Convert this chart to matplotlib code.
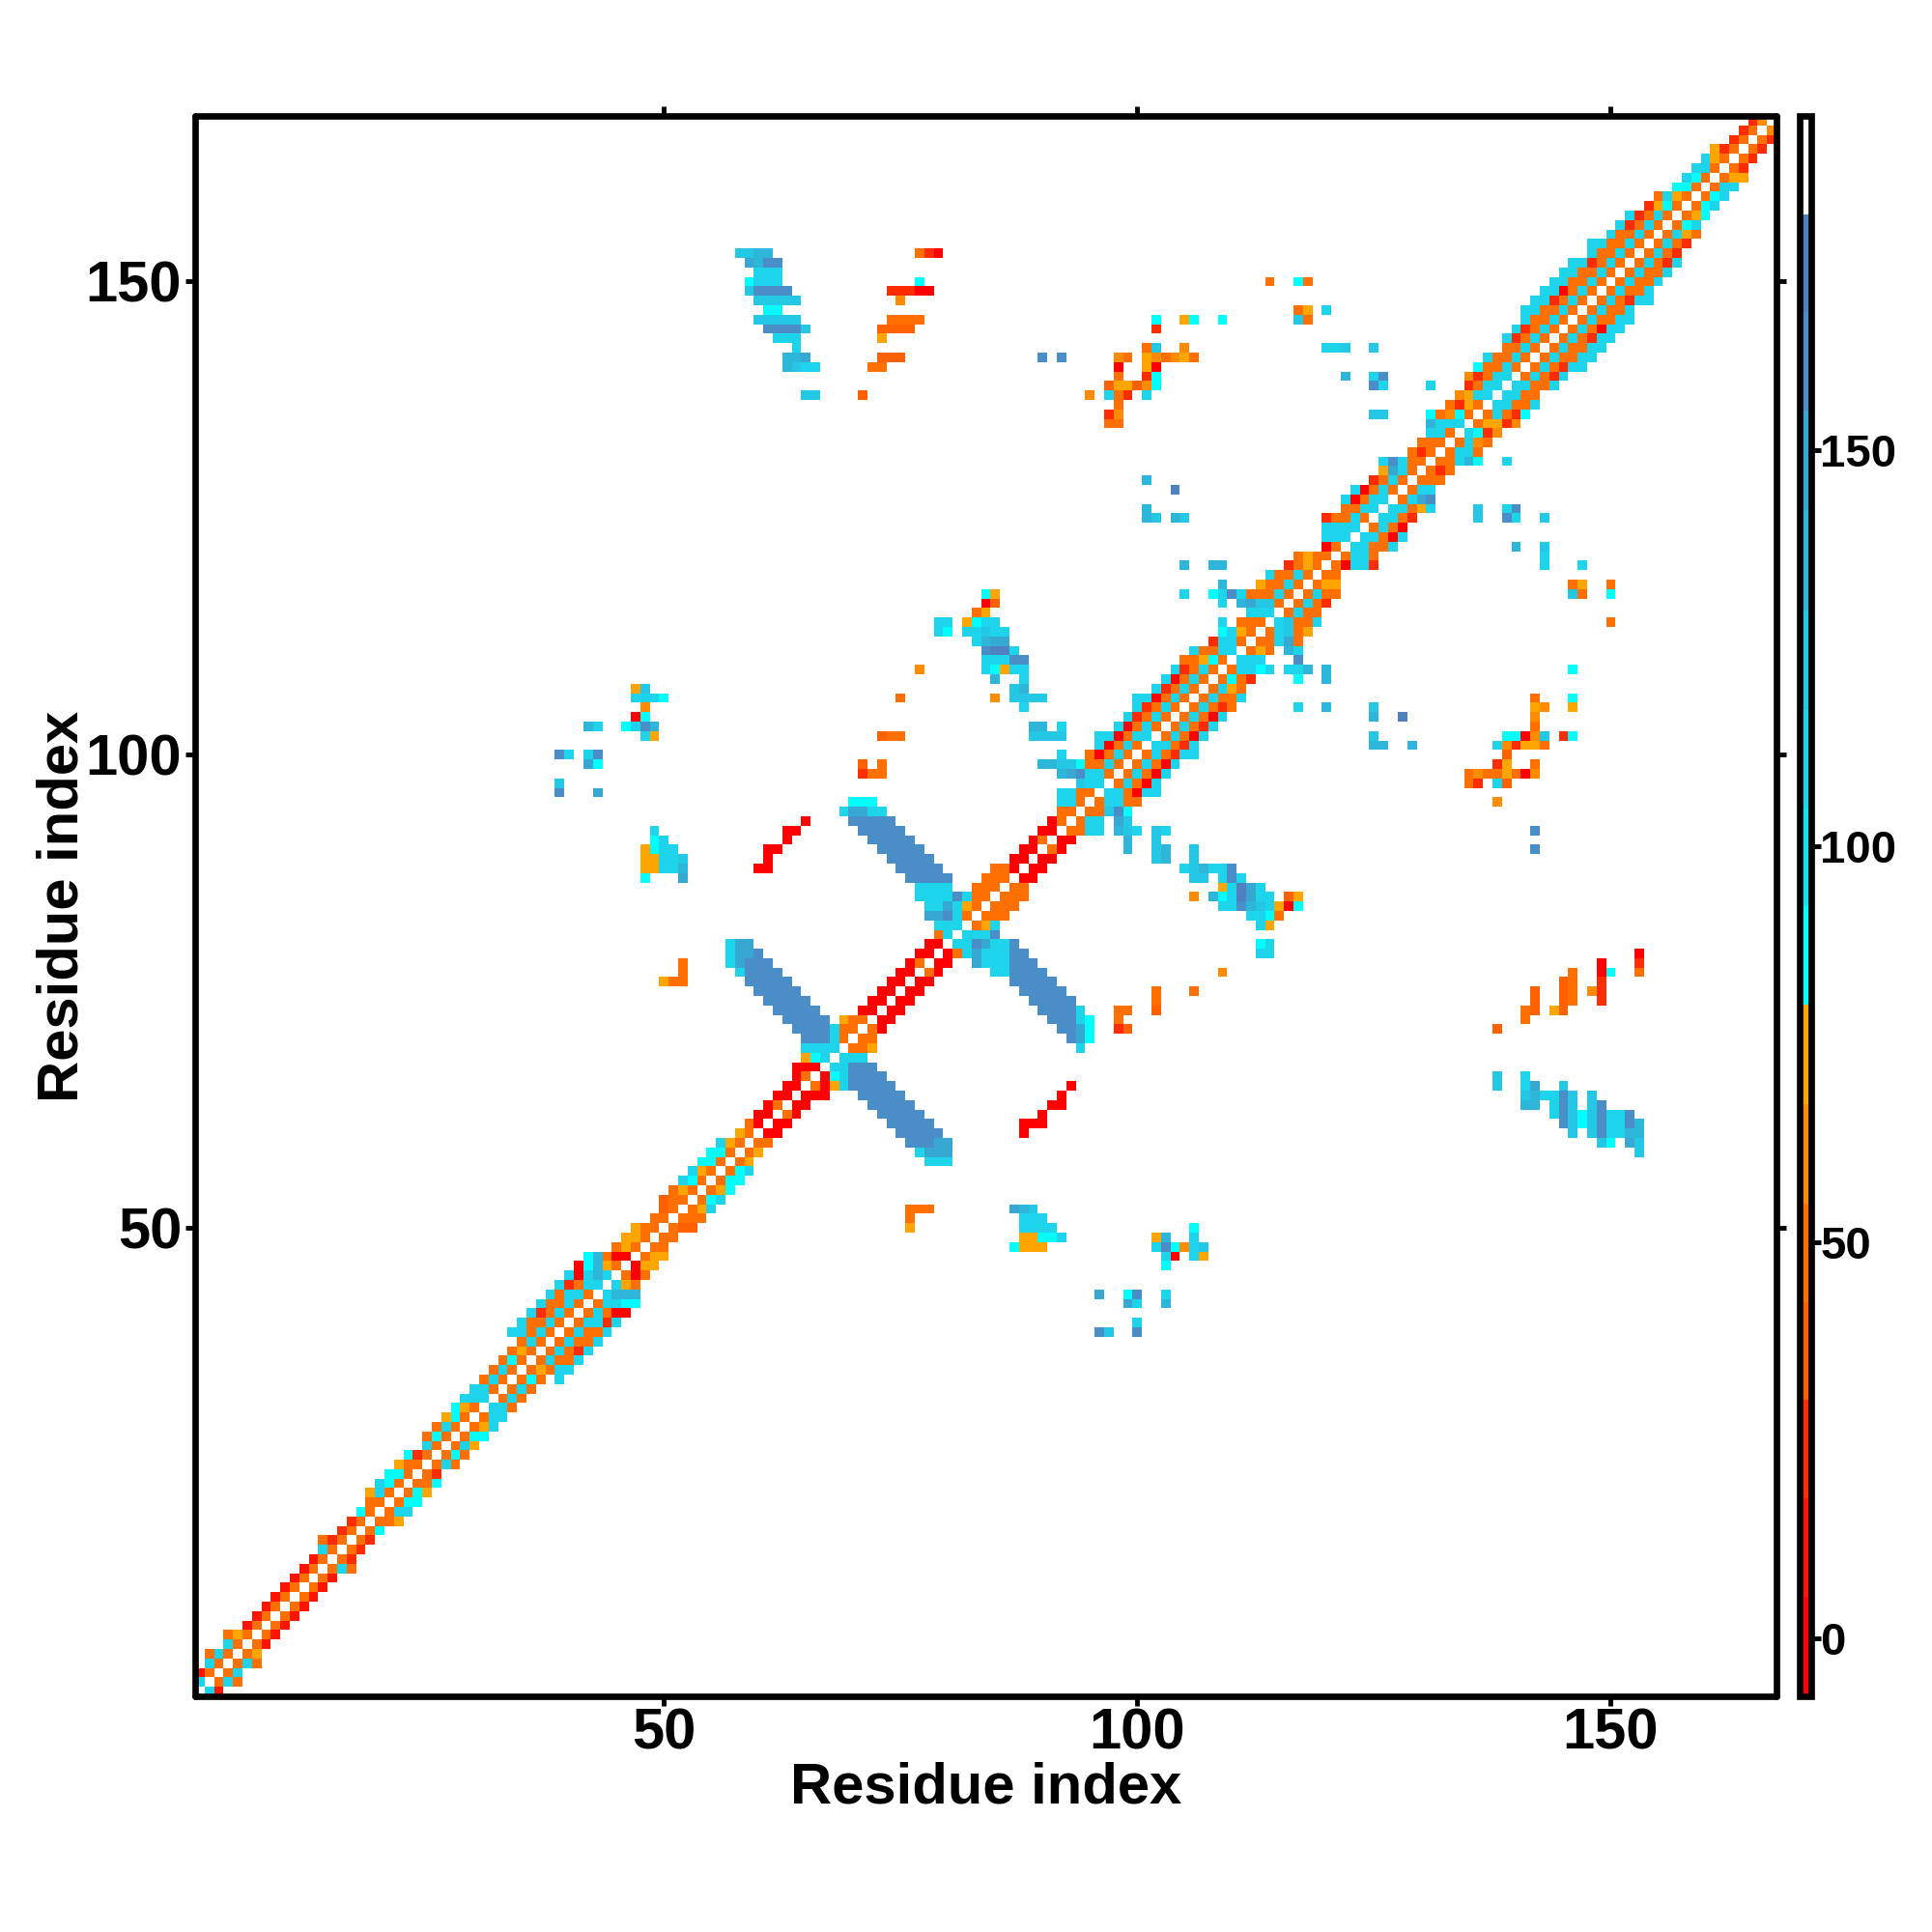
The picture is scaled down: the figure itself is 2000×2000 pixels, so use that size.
import numpy as np
import matplotlib
matplotlib.use('Agg')
import matplotlib.pyplot as plt
from matplotlib.colors import ListedColormap, BoundaryNorm

plt.rcParams['font.family'] = ['Liberation Sans', 'DejaVu Sans']
plt.rcParams['font.weight'] = 'bold'

N_RES = 167

# colour steps of the bar, bottom to top
level_edges = [-7.3, 5.3, 17.7, 30.1, 42.5, 54.9, 67.4, 80, 92.4, 104.8, 117.2, 129.8, 142.4, 155, 167.4, 179.8, 192.2]
level_colors = ['#FF0000', '#FF1400', '#FF2C00', '#FF6000', '#FF7000', '#FF8C00', '#FFA500',
                '#00FFFF', '#12E2F2', '#1ED4EA', '#24C8E4', '#2EB6DA', '#36A8D2',
                '#4A8EC8', '#4F80C0', '#FFFFFF']
cbar_ticks = [0, 50, 100, 150]
axis_ticks = [50, 100, 150]

# angle values
R, r, t, o, O, P, A, C, c, d, e, f, g, h, B = 0, 11, 23, 36, 48, 60, 73, 86, 110, 110, 123, 135, 148, 160, 173
_ = None

# rows are (row residue, first column residue, values); only the upper triangle, map is symmetric
band_low = [
    (2, 1, [c]), (3, 1, [r, O]), (4, 2, [c, O]), (5, 2, [O, c, O]), (6, 4, [c, O]), (7, 4, [O, A, O]),
    (8, 6, [r, O]), (9, 7, [r, O]), (10, 8, [r, O]), (11, 9, [r, O]), (12, 10, [r, O]), (13, 11, [r, O]),
    (14, 12, [r, O]), (15, 13, [r, O]), (16, 14, [c, O]), (17, 14, [O, t, O]), (18, 16, [t, O]),
    (19, 17, [t, O]), (20, 18, [C, O]), (21, 19, [O, O]), (22, 19, [A, c, O]), (23, 20, [c, C, O]),
    (24, 21, [C, C, O]), (25, 22, [A, O, O]), (26, 23, [C, t, O]), (27, 25, [c, O]), (28, 25, [O, C, O]),
    (29, 26, [O, c, O]), (30, 27, [A, C, O]), (31, 28, [C, A, O]), (32, 29, [c, c, c]), (33, 30, [c, c, O]),
    (34, 31, [O, c, O]), (35, 32, [O, c, O]), (36, 33, [O, C, O]), (37, 34, [O, A, O]), (38, 35, [O, c, O]),
    (39, 34, [c, c, O, c, O]), (40, 35, [c, O, O, c, O]), (41, 36, [c, t, O, c, O]), (42, 37, [c, O, O, c, O]),
    (43, 38, [c, O, c, c, O]), (44, 39, [c, t, O, c, c]), (45, 40, [c, R, c, f, c]), (46, 41, [R, C, f, A, O]),
    (47, 42, [C, f, O, R, R]), (48, 45, [O, A, O]), (49, 46, [A, A, O]), (50, 47, [A, O, O]),
]

band_mid = [
    (51, 49, [O, O]), (52, 50, [o, O]), (53, 50, [o, O, O]), (54, 51, [O, A, O]), (55, 52, [c, C, O]),
    (56, 53, [c, A, O]), (57, 54, [C, C, O]), (58, 55, [C, C, O]), (59, 56, [c, A, O]), (60, 58, [A, O]),
    (61, 59, [O, R]), (62, 60, [R, R]), (63, 61, [R, O]), (64, 62, [R, R]), (65, 63, [R, R]), (66, 64, [R, O]),
    (67, 64, [R, R, R]), (68, 65, [A, C, c]), (69, 65, [c, c, c, c]), (70, 68, [c, O]), (71, 68, [c, O, O]),
    (72, 69, [A, O, O]), (73, 71, [R, R]), (74, 72, [R, R]), (75, 73, [R, R]), (76, 74, [R, R]), (77, 75, [R, R]),
    (78, 76, [R, O]), (79, 77, [R, R]), (80, 78, [R, R]), (81, 79, [O, c]), (82, 79, [c, c, c]),
    (83, 81, [c, O]), (84, 81, [c, A, O]), (85, 81, [h, c, O, O]), (86, 83, [O, O, O]), (87, 84, [O, O, O]),
    (88, 85, [O, O, R]), (89, 87, [R, R]), (90, 88, [R, R]), (91, 89, [R, O]), (92, 90, [R, R]), (93, 91, [R, O]),
    (94, 92, [O, O]), (95, 92, [c, c, O]), (96, 92, [c, c, O, O]), (97, 94, [e, c, c]),
    (98, 92, [f, g, h, c, c, O]), (99, 90, [f, f, e, e, C, O, O, c, O]), (100, 92, [d, _, _, O, R, O, c, O]),
]

band_high = [
    (101, 96, [c, R, O, c, O]), (102, 96, [c, c, R, O, c, c]), (103, 98, [c, R, O, c, O]), (104, 99, [c, t, O, c, O]),
    (105, 100, [c, t, O, c, O]), (106, 100, [c, c, R, O, c, O]), (107, 102, [c, t, O, c, O]), (108, 103, [c, R, O, c, O]),
    (109, 104, [c, t, O, c, O]), (110, 105, [O, O, A, C, O]), (111, 106, [c, O, O, c, c]), (112, 108, [t, c, c, O]),
    (113, 109, [C, c, A, O]), (114, 109, [c, _, O, O, O]), (115, 112, [c, c, c]), (116, 109, [c, _, f, g, e, e, O]),
    (117, 108, [C, c, h, c, O, O, O, c, O]), (118, 113, [A, O, O, c, O]), (119, 114, [c, O, O, c, O]), (120, 116, [t, O, A, O]),
    (121, 117, [O, A, O, O]), (122, 120, [R, O]), (123, 120, [c, c, c]), (124, 120, [c, c, c, c]), (125, 120, [t, O, O, c, O]),
    (126, 122, [O, O, c, c]), (127, 122, [c, R, O, c, c]), (128, 123, [c, R, O, c, O]), (129, 125, [t, O, c, O]),
    (130, 126, [A, g, c, O]), (131, 126, [c, h, c, O, O]), (132, 129, [O, t, O]), (133, 130, [O, O, O]), (134, 131, [c, c, O]),
    (135, 131, [f, c, c, c]), (136, 131, [C, O, P, C, O]), (137, 133, [O, t, A, O]), (138, 134, [P, A, c, c]),
    (139, 135, [t, O, c, c]), (140, 135, [P, t, O, c, c]), (141, 136, [C, O, O, c, O]), (142, 137, [c, O, O, c, O]),
    (143, 139, [O, O, c, O]), (144, 139, [c, t, O, c, O]), (145, 140, [c, t, O, c, O]), (146, 141, [c, O, O, c, O]),
    (147, 141, [c, c, O, O, c, O]), (148, 142, [c, c, t, O, c, O]), (149, 143, [c, c, R, O, c, O]), (150, 144, [c, c, O, O, c, O]),
    (151, 145, [c, c, O, O, c, O]), (152, 146, [c, c, t, O, c, O]), (153, 148, [c, O, O, c, O]), (154, 148, [c, c, O, O, c, O]),
    (155, 150, [c, O, O, c, O]), (156, 151, [c, t, O, c, O]), (157, 152, [c, t, O, c, O]), (158, 154, [t, A, C, O]),
    (159, 155, [O, c, A, O]), (160, 157, [C, C, O]), (161, 158, [c, C, O]), (162, 159, [c, c, O]), (163, 160, [c, A, O]),
    (164, 161, [A, t, O]), (165, 163, [t, O]), (166, 164, [t, O]), (167, 165, [t, P]),
]

# the two long blue strands of the X
arm_first = [
    (70, 65, [h, h, h]), (71, 64, [h, h, h, h]), (72, 63, [h, h, h, h, h]), (73, 62, [h, h, h, h, h]),
    (74, 61, [h, h, h, h, h]), (75, 60, [h, h, h, h, h]), (76, 59, [h, h, h, h, h]), (77, 58, [c, h, h, h, h]),
    (78, 57, [c, g, h, h, h]), (79, 57, [c, g, g, h]), (80, 57, [c, g, g]),
]
arm_second = [
    (83, 78, [g, g, h, c]), (84, 78, [c, c, g, c]), (85, 77, [c, c, c, c]), (86, 77, [c, c, c, c]),
    (87, 76, [h, h, h, h, h]), (88, 75, [h, h, h, h, h]), (89, 74, [h, h, h, h, h]), (90, 73, [h, h, h, h, h]),
    (91, 72, [h, h, h, h, h]), (92, 71, [h, h, h, h, h]), (93, 70, [h, h, h, h, h]), (94, 69, [c, g, g, c, c]),
    (95, 70, [C, C, C]),
]

far_middle = [
    (76, 50, [A, O, O]), (77, 52, [O]), (78, 52, [O]), (87, 48, [C, _, _, _, g]), (88, 48, [A, A, d, d, f]),
    (89, 48, [A, A, d, d, e]), (90, 48, [A, C, d, d]), (91, 49, [C, d]), (92, 49, [c]),
    (88, 60, [R, R]), (89, 61, [R]), (90, 61, [R, R]), (91, 63, [R]), (92, 63, [R, R]), (93, 65, [R]),
    (96, 39, [h, _, _, _, g]), (97, 39, [e]), (99, 42, [g, C]), (100, 39, [h, c, _, c, h]), (102, 48, [c, A]),
    (103, 42, [f, c, _, _, C, c, h, f]), (104, 47, [R, C]), (105, 48, [P]), (106, 47, [c, d, c, C]), (107, 47, [A, e]),
    (98, 71, [t, O, O]), (99, 71, [o, _, O]), (102, 73, [o, O, O]), (106, 75, [O]), (109, 77, [P]),
]

far_strand = [
    (102, 89, [e, e, e, e]), (103, 89, [f, f, _, d]), (105, 88, [d]), (106, 85, [P, _, e, e, e, e]), (107, 87, [e, f]),
    (108, 85, [f, _, _, d]), (109, 84, [c, C, A, d, d]), (110, 84, [c, c, c, h, h]), (111, 84, [h, B, B, c]),
    (112, 83, [c, f, g, g]), (113, 79, [c, C, _, c, c, e, d, d]), (114, 79, [c, c, _, A, C, c, c]),
    (115, 83, [O, A]), (116, 84, [R, o]), (117, 84, [C, A]),
]

far_top_left = [
    (138, 65, [e, e, _, _, _, _, o]), (141, 63, [f, e, d, d]), (141, 72, [O, O]), (142, 63, [f, f, g]), (142, 73, [o, o, o]),
    (143, 64, [d]), (144, 62, [d, d, d]), (144, 73, [A]), (145, 61, [h, h, h, h, e]), (145, 73, [o, o, o, o]),
    (146, 60, [e, e, e, e, e]), (146, 74, [O, O, O, O]), (147, 61, [C, C]), (148, 60, [e, e, e, e, e]), (148, 75, [P]),
    (149, 59, [e, h, h, h, h]), (149, 74, [t, t, t, R, R]), (150, 59, [C, d, d, d]), (150, 77, [C]), (151, 60, [d, d, d]),
    (152, 59, [g, f, h, h]), (153, 58, [e, e, f, f]), (153, 77, [O, t, R]),
]

far_top_right = [
    (135, 97, [O, O]), (136, 97, [t, P]), (137, 98, [O]), (138, 95, [P, _, d, O, t, _, d]), (139, 97, [o, A, A, o, P, C]),
    (140, 98, [O, _, _, t, C]), (141, 98, [R, _, _, A, R]), (142, 90, [h, _, h]), (142, 98, [P, O, _, A, P, O, P, A, O]),
    (143, 101, [O, e, _, _, P]), (145, 102, [t]), (146, 102, [C, _, _, A, C, _, _, C]), (146, 117, [e, O]),
    (147, 117, [O, A, _, c]), (150, 114, [O, _, _, C, O]), (143, 120, [d, d, e, _, _, e]), (140, 122, [f, _, _, d, h]),
    (139, 125, [h, c]), (139, 131, [c]), (136, 125, [e, e]), (125, 101, [f, e, _, f, e]), (126, 101, [f]), (128, 104, [B]),
    (129, 101, [f]), (120, 105, [f, _, _, f, f]), (117, 105, [c]), (118, 109, [f]),
]


def fill_rows(matrix, rows):
    for row, first, values in rows:
        for k, val in enumerate(values):
            if val is None:
                continue
            col = first + k
            matrix[row - 1, col - 1] = val
            matrix[col - 1, row - 1] = val


contact_map = np.full((N_RES, N_RES), np.nan)
for block in [band_low, band_mid, band_high, arm_first, arm_second,
              far_middle, far_strand, far_top_left, far_top_right]:
    fill_rows(contact_map, block)

cmap = ListedColormap(level_colors)
cmap.set_bad('white')
norm = BoundaryNorm(level_edges, cmap.N)

fig = plt.figure(figsize=(20, 20), dpi=100)
ax = fig.add_axes([202 / 2000, 244 / 2000, 1637 / 2000, 1636 / 2000])
im = ax.imshow(contact_map, origin='lower', extent=(0.5, N_RES + 0.5, 0.5, N_RES + 0.5),
               cmap=cmap, norm=norm, interpolation='nearest', aspect='auto')

ax.set_xticks(axis_ticks)
ax.set_yticks(axis_ticks)
ax.tick_params(top=True, right=True, direction='out', length=7, width=3.5, labelsize=43)
ax.tick_params(axis='x', pad=1.5)
ax.tick_params(axis='y', pad=3)
for spine in ax.spines.values():
    spine.set_linewidth(4.8)
    spine.set_capstyle('round')

ax.set_xlabel('Residue index', fontsize=43, fontweight='bold')
ax.set_ylabel('Residue index', fontsize=43, fontweight='bold')
ax.xaxis.set_label_coords(0.5, -0.0413)
ax.yaxis.set_label_coords(-0.067, 0.5)

cax = fig.add_axes([1862.5 / 2000, 244 / 2000, 12 / 2000, 1636 / 2000])
cbar = fig.colorbar(im, cax=cax, ticks=cbar_ticks, spacing='proportional', drawedges=False)
cbar.outline.set_linewidth(4.8)
cbar.ax.set_ylim(level_edges[0], level_edges[-1])
cbar.ax.tick_params(direction='out', length=7, width=3.5, labelsize=34, pad=0)
cbar.ax.minorticks_off()

fig.savefig('out.png', dpi=100, facecolor='white')
